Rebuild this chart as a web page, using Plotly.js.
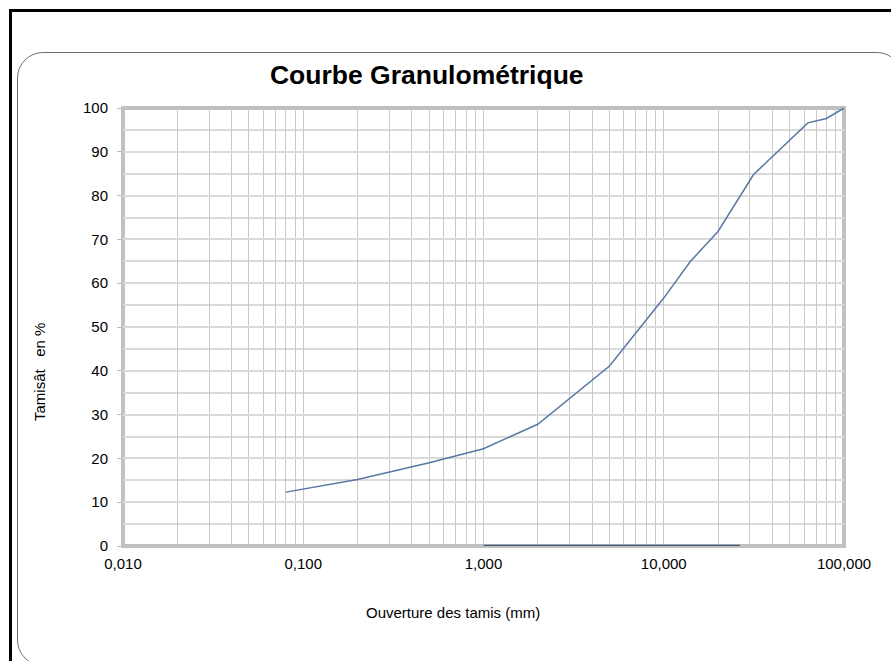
<!DOCTYPE html>
<html>
<head>
<meta charset="utf-8">
<script src="https://cdn.plot.ly/plotly-3.0.1.min.js"></script>
<style>
  html, body { margin: 0; padding: 0; background: #ffffff; }
  #wrap { position: relative; width: 891px; height: 661px; overflow: hidden; }
  #chart { position: absolute; left: 0; top: 0; width: 891px; height: 661px; }
  #outer { position: absolute; left: 9px; top: 9px; width: 900px; height: 700px; border: 3px solid #000; box-sizing: border-box; pointer-events: none; }
  #inner { position: absolute; left: 17px; top: 52px; width: 886px; height: 614px; border: 1px solid #707070; border-radius: 26px; box-sizing: border-box; pointer-events: none; }
</style>
</head>
<body>
<div id="wrap">
  <div id="chart"></div>
  <div id="outer"></div>
  <div id="inner"></div>
</div>
<script>
// Sieve openings (mm) and cumulative passing (%)
const sieveSizes = [0.08, 0.2, 0.5, 1, 2, 5, 10, 14, 20, 31.5, 63, 80, 100];
const passing    = [12.3, 15.2, 19.0, 22.2, 27.8, 41.1, 56.6, 64.9, 71.8, 84.8, 96.6, 97.6, 100];

// Second (flat) series along the x axis
const baseX = [1, 26.5];
const baseY = [0, 0];

// Axis ticks
const xGridVals = [];
[0.01, 0.1, 1, 10].forEach(d => { for (let k = 1; k <= 9; k++) xGridVals.push(+(d * k).toPrecision(3)); });
xGridVals.push(100);
const xLabelVals = [0.01, 0.1, 1, 10, 100];
const xLabelText = ["0,010", "0,100", "1,000", "10,000", "100,000"];
const xTickText = xGridVals.map(v => { const i = xLabelVals.findIndex(l => Math.abs(l - v) < 1e-9); return i >= 0 ? xLabelText[i] : ""; });
const yTickVals = [0, 10, 20, 30, 40, 50, 60, 70, 80, 90, 100];

const titleText = "Courbe Granulométrique";
const xTitle = "Ouverture des tamis (mm)";
const yTitle = "Tamisât\u00a0\u00a0\u00a0en %";

const traces = [
  { x: baseX, y: baseY, type: "scatter", mode: "lines", line: { color: "#3f5877", width: 2.5 }, hoverinfo: "skip", cliponaxis: false },
  { x: sieveSizes, y: passing, type: "scatter", mode: "lines", line: { color: "#5877a3", width: 1.5 }, cliponaxis: false }
];

const layout = {
  width: 891, height: 661,
  margin: { l: 123, r: 47, t: 108, b: 115 },
  paper_bgcolor: "rgba(0,0,0,0)",
  plot_bgcolor: "#ffffff",
  showlegend: false,
  font: { family: "Liberation Sans, Arial, sans-serif", color: "#000" },
  title: {
    text: "<b>" + titleText + "</b>",
    font: { size: 26.5, family: "Liberation Sans, Arial, sans-serif", color: "#000" },
    xref: "container", x: 0.479, xanchor: "center",
    yref: "container", y: 1 - 75 / 661, yanchor: "middle"
  },
  xaxis: {
    type: "log",
    range: [-2, 2],
    tickmode: "array", tickvals: xGridVals, ticktext: xTickText,
    showgrid: true, gridcolor: "#c8c8c8", gridwidth: 1,
    ticks: "", showline: false, zeroline: false,
    tickfont: { size: 15 },
    ticklabelstandoff: 7
  },
  yaxis: {
    range: [0, 100],
    tickmode: "array", tickvals: yTickVals,
    showgrid: true, gridcolor: "#dadada", gridwidth: 2,
    minor: { dtick: 5, showgrid: true, gridcolor: "#dadada", gridwidth: 2, ticks: "" },
    ticks: "outside", ticklen: 5, tickcolor: "#bdbdbd", tickwidth: 1,
    showline: false, zeroline: false,
    tickfont: { size: 15 },
    ticklabelstandoff: 6
  },
  shapes: [
    { type: "rect", xref: "paper", yref: "paper", x0: 0, x1: 1, y0: 0, y1: 1, line: { color: "#c0c0c0", width: 4 }, layer: "between" }
  ],
  annotations: [
    { text: xTitle, xref: "paper", yref: "paper", x: (453 - 123) / 721, y: -(612 - 546) / 438, xanchor: "center", yanchor: "middle", showarrow: false, font: { size: 15 } },
    { text: yTitle, xref: "paper", yref: "paper", x: (39 - 123) / 721, y: (546 - 372) / 438, xanchor: "center", yanchor: "middle", textangle: -90, showarrow: false, font: { size: 15 } }
  ]
};

Plotly.newPlot("chart", traces, layout, { staticPlot: true, displayModeBar: false });
</script>
</body>
</html>
